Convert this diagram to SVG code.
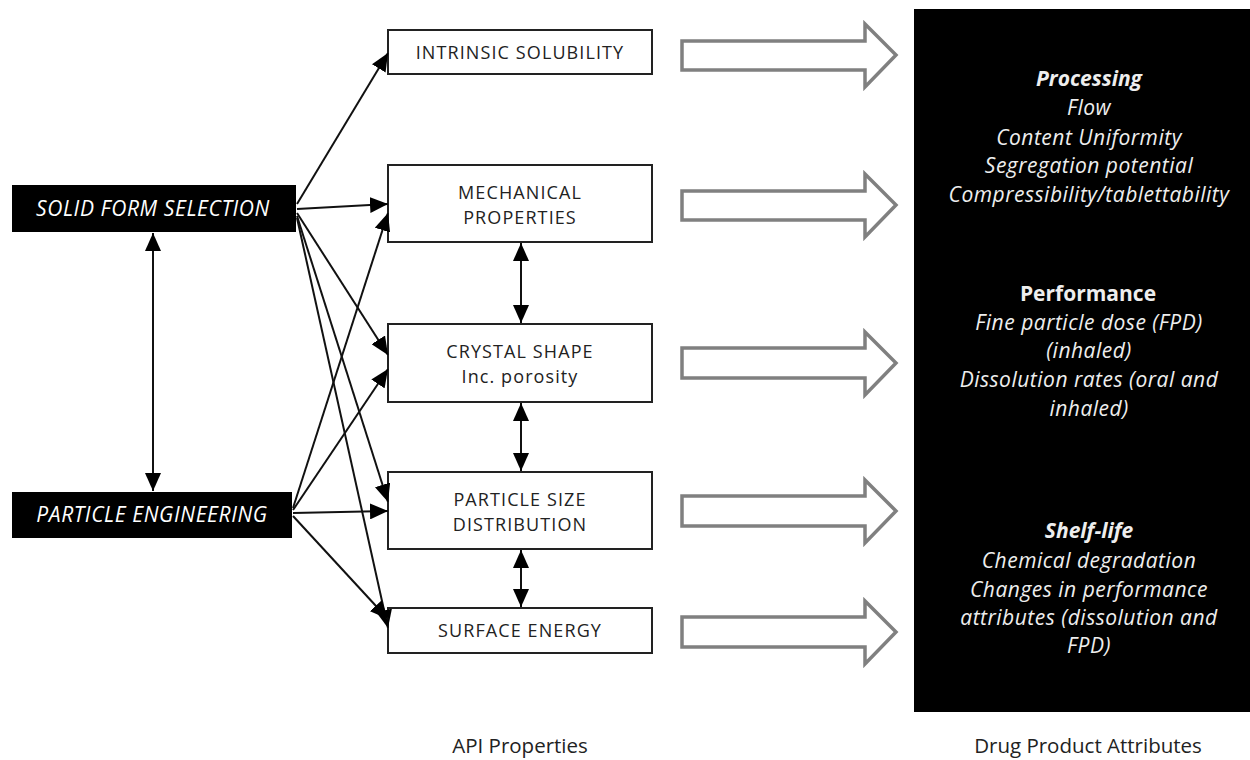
<svg xmlns="http://www.w3.org/2000/svg" width="1250" height="760" viewBox="0 0 1250 760">
<defs>
<marker id="ah" markerUnits="userSpaceOnUse" markerWidth="20" markerHeight="16" refX="18" refY="8" orient="auto-start-reverse">
<path d="M0,0 L18,8 L0,16 Z" fill="#000"/>
</marker>
<style>
.t{font-family:"Open Sans","Noto Sans","DejaVu Sans",sans-serif;text-anchor:middle}
.box{fill:#fff;stroke:#222;stroke-width:2}
.blk{fill:#000}
.bt{font-size:18px;fill:#222;letter-spacing:1.1px}
.lt{font-size:21px;fill:#fff;font-style:italic;letter-spacing:0.6px}
.pt{font-size:21px;fill:#eee;font-style:italic;letter-spacing:0.5px}
.ph{font-weight:bold;letter-spacing:0}
.ln{stroke:#111;stroke-width:2;fill:none;marker-end:url(#ah)}
.dbl{marker-start:url(#ah)}
.ha{fill:#fff;stroke:#808080;stroke-width:3.5;stroke-linejoin:miter}
.ft{font-size:20.5px;fill:#222}
</style>
</defs>
<rect width="1250" height="760" fill="#fff"/>

<g id="panel">
<rect x="914" y="9" width="336" height="703" class="blk"/>
<text class="t pt ph" x="1089" y="86">Processing</text>
<text class="t pt" x="1089" y="115">Flow</text>
<text class="t pt" x="1089" y="145">Content Uniformity</text>
<text class="t pt" x="1089" y="173">Segregation potential</text>
<text class="t pt" x="1089" y="202">Compressibility/tablettability</text>
<text class="t pt ph" x="1088" y="301" style="font-style:normal">Performance</text>
<text class="t pt" x="1089" y="330">Fine particle dose (FPD)</text>
<text class="t pt" x="1089" y="358">(inhaled)</text>
<text class="t pt" x="1089" y="387">Dissolution rates (oral and</text>
<text class="t pt" x="1089" y="416">inhaled)</text>
<text class="t pt ph" x="1089" y="538">Shelf-life</text>
<text class="t pt" x="1089" y="568">Chemical degradation</text>
<text class="t pt" x="1089" y="597">Changes in performance</text>
<text class="t pt" x="1089" y="625">attributes (dissolution and</text>
<text class="t pt" x="1089" y="653">FPD)</text>
</g>

<g id="sfs">
<rect x="12" y="185" width="284" height="47" class="blk"/>
<text class="t lt" x="153" y="216">SOLID FORM SELECTION</text>
</g>
<g id="pe">
<rect x="12" y="492" width="280" height="46" class="blk"/>
<text class="t lt" x="152" y="522">PARTICLE ENGINEERING</text>
</g>

<g id="intrinsic">
<rect x="388" y="30" width="264" height="44" class="box"/>
<text class="t bt" x="520" y="59">INTRINSIC SOLUBILITY</text>
</g>
<g id="mechanical">
<rect x="388" y="165" width="264" height="77" class="box"/>
<text class="t bt" x="520" y="199">MECHANICAL</text>
<text class="t bt" x="520" y="224">PROPERTIES</text>
</g>
<g id="crystal">
<rect x="388" y="324" width="264" height="78" class="box"/>
<text class="t bt" x="520" y="358">CRYSTAL SHAPE</text>
<text class="t bt" x="520" y="383">Inc. porosity</text>
</g>
<g id="psd">
<rect x="388" y="472" width="264" height="77" class="box"/>
<text class="t bt" x="520" y="506">PARTICLE SIZE</text>
<text class="t bt" x="520" y="531">DISTRIBUTION</text>
</g>
<g id="surface">
<rect x="388" y="608" width="264" height="45" class="box"/>
<text class="t bt" x="520" y="637">SURFACE ENERGY</text>
</g>

<g id="hollow-arrows">
<path class="ha" d="M682,41 H865 V24 L896,55 L865,87 V70 H682 Z"/>
<path class="ha" d="M682,191 H865 V174 L896,205 L865,237 V220 H682 Z"/>
<path class="ha" d="M682,348 H865 V332 L896,363 L865,395 V378 H682 Z"/>
<path class="ha" d="M682,496 H865 V480 L896,511 L865,543 V526 H682 Z"/>
<path class="ha" d="M682,617 H865 V601 L896,632 L865,664 V647 H682 Z"/>
</g>

<g id="connectors">
<line class="ln dbl" x1="153" y1="233" x2="153" y2="491"/>
<line class="ln dbl" x1="521" y1="243" x2="521" y2="323"/>
<line class="ln dbl" x1="521" y1="403" x2="521" y2="471"/>
<line class="ln dbl" x1="521" y1="550" x2="521" y2="607"/>

<line class="ln" x1="297" y1="204" x2="388" y2="53"/>
<line class="ln" x1="297" y1="209" x2="388" y2="204"/>
<line class="ln" x1="297" y1="213" x2="388" y2="355"/>
<line class="ln" x1="297" y1="216" x2="388" y2="502"/>
<line class="ln" x1="297" y1="218" x2="388" y2="628"/>

<line class="ln" x1="293" y1="508" x2="388" y2="213"/>
<line class="ln" x1="293" y1="510" x2="388" y2="369"/>
<line class="ln" x1="293" y1="513" x2="388" y2="511"/>
<line class="ln" x1="293" y1="516" x2="388" y2="619"/>
</g>

<g id="footer">
<text class="t ft" x="520" y="753">API Properties</text>
<text class="t ft" x="1088" y="753">Drug Product Attributes</text>
</g>
</svg>
